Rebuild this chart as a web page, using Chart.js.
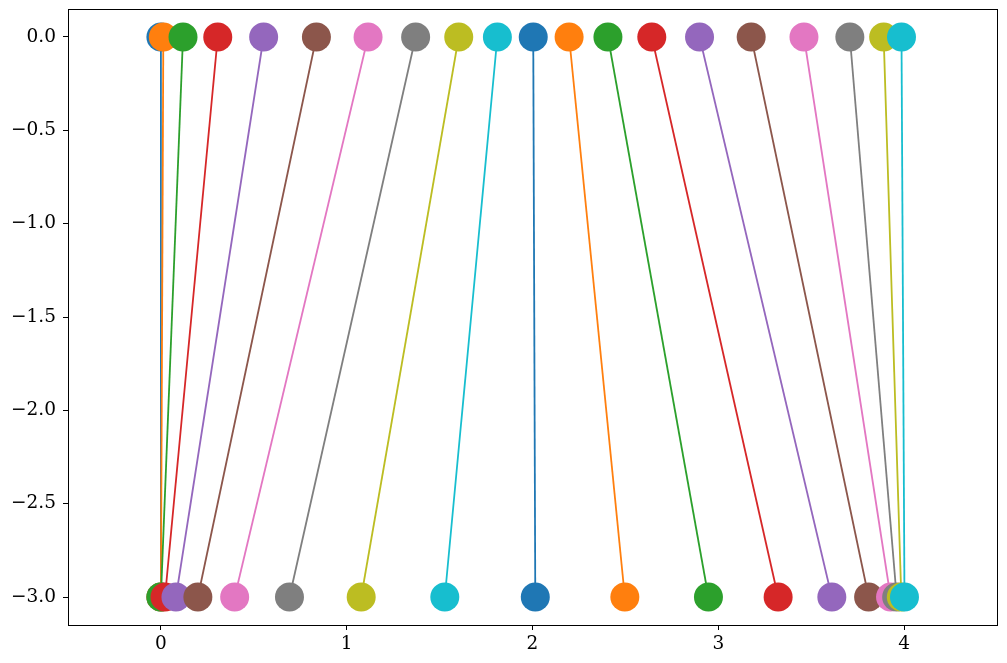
<!DOCTYPE html>
<html>
<head>
<meta charset="utf-8">
<script src="https://cdn.jsdelivr.net/npm/chart.js@4.4.1/dist/chart.umd.min.js"></script>
<style>
  html, body { margin: 0; padding: 0; background: #fff; }
  #wrap { width: 1007px; height: 663px; }
</style>
</head>
<body>
<div id="wrap"><canvas id="myChart" width="1007" height="663"></canvas></div>
<script>
// x position of each line at y = 0 (top) and y = -3 (bottom)
let topX    = [0.0, 0.013, 0.119, 0.306, 0.553, 0.837, 1.115, 1.371, 1.603, 1.811,
               2.004, 2.197, 2.406, 2.642, 2.899, 3.177, 3.461, 3.708, 3.890, 3.986];
let bottomX = [0.0, 0.0, 0.0, 0.022, 0.081, 0.199, 0.397, 0.692, 1.078, 1.528,
               2.015, 2.497, 2.947, 3.322, 3.611, 3.809, 3.927, 3.960, 3.985, 4.002];
let topY = 0;
let bottomY = -3;

let xTicks = [0, 1, 2, 3, 4];
let yTicks = [0, -0.5, -1, -1.5, -2, -2.5, -3];

let colors = ['#1f77b4', '#ff7f0e', '#2ca02c', '#d62728', '#9467bd',
              '#8c564b', '#e377c2', '#7f7f7f', '#bcbd22', '#17becf'];

let datasets = topX.map(function(x, i) {
    let c = colors[i % colors.length];
    return {
        data: [{x: x, y: topY}, {x: bottomX[i], y: bottomY}],
        borderColor: c,
        backgroundColor: c,
        borderWidth: 1.8,
        pointRadius: 14.5,
        pointHoverRadius: 14.5,
        pointBorderWidth: 0,
        pointBackgroundColor: c,
        showLine: true,
        order: topX.length - i,
        clip: false
    };
});

// box round the plot area, like matplotlib's spines
let frame = {
    id: 'frame',
    afterDraw: function(chart) {
        let a = chart.chartArea;
        let ctx = chart.ctx;
        ctx.save();
        ctx.strokeStyle = '#000';
        ctx.lineWidth = 1;
        ctx.strokeRect(Math.round(a.left) + 0.5, Math.round(a.top) + 0.5,
                       Math.round(a.right - a.left), Math.round(a.bottom - a.top));
        ctx.restore();
    }
};

let font = { family: 'DejaVu Serif', size: 18.5 };

let ctx = document.getElementById('myChart').getContext('2d');
var myChart = new Chart(ctx, {
    type: 'scatter',
    data: { datasets: datasets },
    options: {
        responsive: false,
        animation: false,
        events: [],
        layout: { autoPadding: false, padding: { left: 0, top: 9, right: 10, bottom: 0 } },
        plugins: {
            legend: { display: false },
            tooltip: { enabled: false }
        },
        scales: {
            x: {
                type: 'linear',
                min: -0.5,
                max: 4.5,
                afterBuildTicks: function(scale) {
                    scale.ticks = xTicks.map(function(v) { return {value: v}; });
                },
                afterFit: function(scale) {
                    scale.height = 38;
                    scale.paddingLeft = 0;
                    scale.paddingRight = 0;
                },
                ticks: {
                    color: '#000',
                    font: font,
                    padding: 3,
                    maxRotation: 0,
                    callback: function(v) { return String(v); }
                },
                grid: { drawOnChartArea: false, drawTicks: true, tickLength: 5, color: '#000' },
                border: { display: false }
            },
            y: {
                type: 'linear',
                min: -3.15,
                max: 0.15,
                afterBuildTicks: function(scale) {
                    scale.ticks = yTicks.map(function(v) { return {value: v}; });
                },
                afterFit: function(scale) {
                    scale.width = 68;
                    scale.paddingTop = 0;
                    scale.paddingBottom = 0;
                },
                ticks: {
                    color: '#000',
                    font: font,
                    padding: 7,
                    callback: function(v) { return v.toFixed(1).replace('-', '\u2212'); }
                },
                grid: { drawOnChartArea: false, drawTicks: true, tickLength: 5, color: '#000' },
                border: { display: false }
            }
        }
    },
    plugins: [frame]
});
</script>
</body>
</html>
